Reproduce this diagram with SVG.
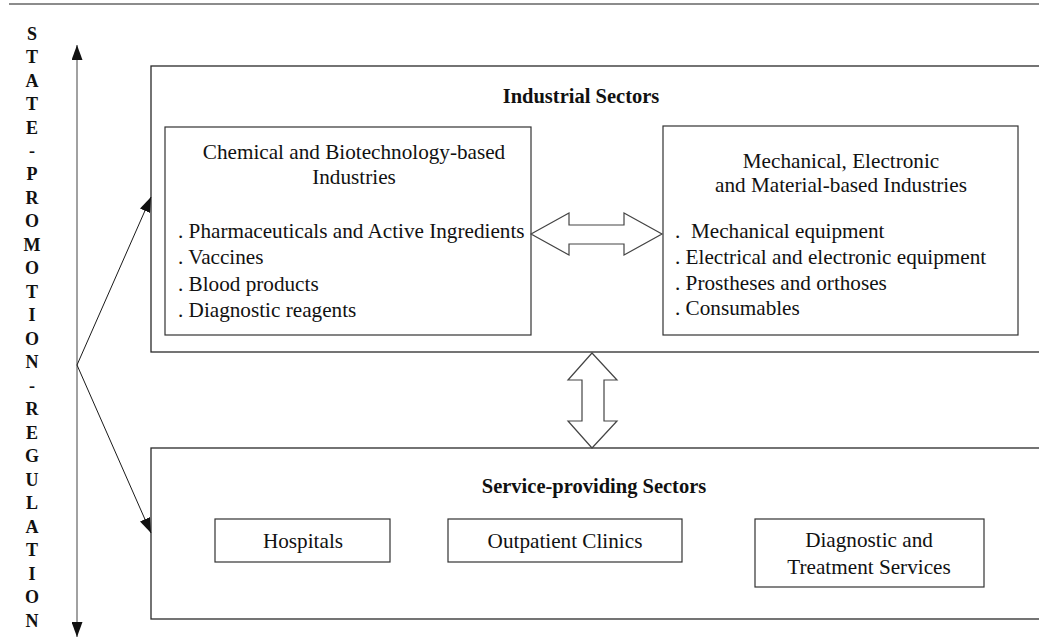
<svg xmlns="http://www.w3.org/2000/svg" width="1039" height="639" viewBox="0 0 1039 639">
<style>
.box{fill:#fff;stroke:#2a2a2a;stroke-width:1.3}
.inner{fill:#fff;stroke:#333;stroke-width:1.2}
.t{font-family:"Liberation Serif","Times New Roman",serif;font-size:21.2px;fill:#111}
.c{text-anchor:middle}
.b{font-weight:bold;font-size:20.5px}
.v{font-family:"Liberation Serif","Times New Roman",serif;font-weight:bold;font-size:18px;fill:#111;text-anchor:middle}
.dbl{fill:#fff;stroke:#444;stroke-width:1.2}
.conn{stroke:#1a1a1a;stroke-width:1;fill:none}
</style>
<defs>
<marker id="ah" viewBox="0 0 15 11" refX="15" refY="5.5" markerWidth="15" markerHeight="11" markerUnits="userSpaceOnUse" orient="auto-start-reverse">
<path d="M0,0 L15,5.5 L0,11 z" fill="#111"/>
</marker>
</defs>
<rect width="1039" height="639" fill="#fff"/>
<line x1="9" y1="4" x2="1039" y2="4" stroke="#666" stroke-width="1.6"/>

<g id="side-label">
<text class="v" x="32" y="39.5">S</text>
<text class="v" x="32" y="63">T</text>
<text class="v" x="32" y="86.5">A</text>
<text class="v" x="32" y="110">T</text>
<text class="v" x="32" y="133.5">E</text>
<text class="v" x="32" y="157">-</text>
<text class="v" x="32" y="180.4">P</text>
<text class="v" x="32" y="203.9">R</text>
<text class="v" x="32" y="227.3">O</text>
<text class="v" x="32" y="250.8">M</text>
<text class="v" x="32" y="274.3">O</text>
<text class="v" x="32" y="297.8">T</text>
<text class="v" x="32" y="321.3">I</text>
<text class="v" x="32" y="344.7">O</text>
<text class="v" x="32" y="368.2">N</text>
<text class="v" x="32" y="391.7">-</text>
<text class="v" x="32" y="415.2">R</text>
<text class="v" x="32" y="438.7">E</text>
<text class="v" x="32" y="462.1">G</text>
<text class="v" x="32" y="485.6">U</text>
<text class="v" x="32" y="509.1">L</text>
<text class="v" x="32" y="532.6">A</text>
<text class="v" x="32" y="556">T</text>
<text class="v" x="32" y="579.5">I</text>
<text class="v" x="32" y="603">O</text>
<text class="v" x="32" y="626.5">N</text>
</g>

<g id="industrial">
<rect class="box" x="151" y="66" width="900" height="286"/>
<text class="t c b" x="581" y="103">Industrial Sectors</text>
</g>

<g id="chemical">
<rect class="inner" x="165" y="127" width="366" height="208"/>
<text class="t c" x="354" y="159">Chemical and Biotechnology-based</text>
<text class="t c" x="354" y="184">Industries</text>
<text class="t" x="178" y="238">. Pharmaceuticals and Active Ingredients</text>
<text class="t" x="178" y="264">. Vaccines</text>
<text class="t" x="178" y="291">. Blood products</text>
<text class="t" x="178" y="317">. Diagnostic reagents</text>
</g>

<g id="mechanical">
<rect class="inner" x="663" y="126" width="355" height="209"/>
<text class="t c" x="841" y="168">Mechanical, Electronic</text>
<text class="t c" x="841" y="192">and Material-based Industries</text>
<text class="t" x="675" y="238" xml:space="preserve">.  Mechanical equipment</text>
<text class="t" x="675" y="264">. Electrical and electronic equipment</text>
<text class="t" x="675" y="290">. Prostheses and orthoses</text>
<text class="t" x="675" y="315">. Consumables</text>
</g>

<g id="service">
<rect class="box" x="151" y="448" width="900" height="171"/>
<text class="t c b" x="594" y="493">Service-providing Sectors</text>
</g>

<g id="hospitals">
<rect class="inner" x="215" y="519" width="175" height="43"/>
<text class="t c" x="303" y="548">Hospitals</text>
</g>

<g id="outpatient">
<rect class="inner" x="448" y="519" width="234" height="43"/>
<text class="t c" x="565" y="548">Outpatient Clinics</text>
</g>

<g id="diagnostic">
<rect class="inner" x="755" y="519" width="229" height="68"/>
<text class="t c" x="869" y="547">Diagnostic and</text>
<text class="t c" x="869" y="574">Treatment Services</text>
</g>

<g id="connectors">
<line x1="77" y1="637" x2="77" y2="45" stroke="#8a8a8a" stroke-width="1.6" marker-start="url(#ah)" marker-end="url(#ah)"/>
<line class="conn" x1="77" y1="365" x2="151" y2="197" marker-end="url(#ah)"/>
<line class="conn" x1="77" y1="365" x2="151" y2="533" marker-end="url(#ah)"/>
<polygon class="dbl" points="531,234 569,213 569,225 624,225 624,213 662,234 624,255 624,244 569,244 569,255"/>
<polygon class="dbl" points="592,353 617,380 604,380 604,421 617,421 592,448 568,421 582,421 582,380 568,380"/>
</g>
</svg>
